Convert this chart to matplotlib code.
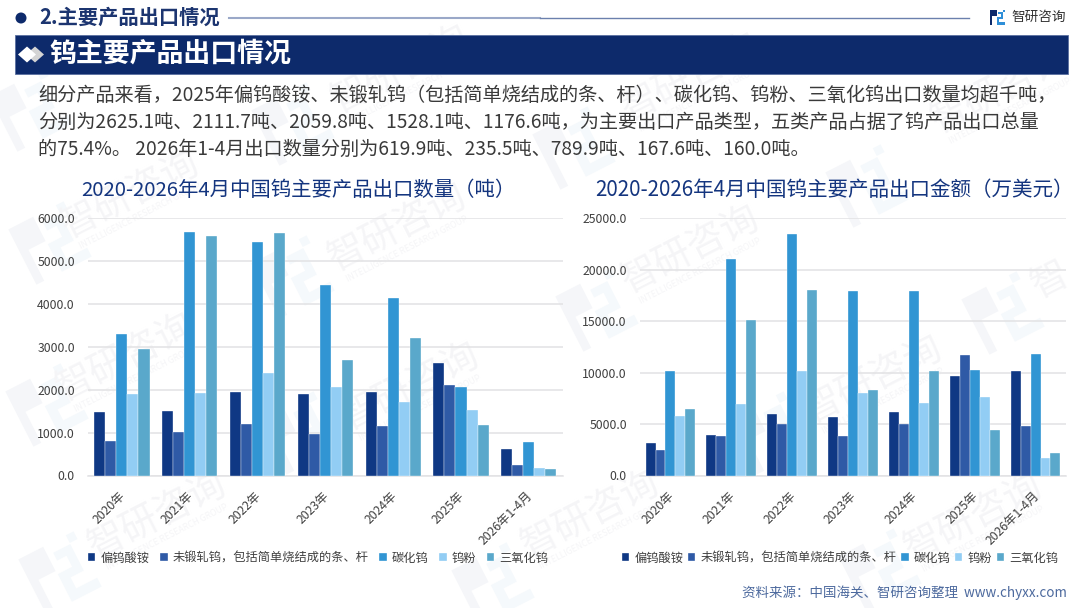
import numpy as np
import matplotlib
matplotlib.use("Agg")
import matplotlib.pyplot as plt
from matplotlib.patches import Rectangle, Polygon, Circle
from matplotlib.transforms import Affine2D

plt.rcParams['font.family'] = ['Noto Sans CJK SC', 'DejaVu Sans']

years = ['2020年', '2021年', '2022年', '2023年', '2024年', '2025年', '2026年1-4月']
products = ['偏钨酸铵', '未锻轧钨，包括简单烧结成的条、杆', '碳化钨', '钨粉', '三氧化钨']
colors = ['#0f3884', '#2f5aa6', '#3195d3', '#92cdf4', '#5aa8cb']

qty_apt = [1479, 1502, 1938, 1891, 1953, 2625.1, 619.9]
qty_unwrought = [809, 1004, 1198, 965, 1144, 2111.7, 235.5]
qty_carbide = [3292, 5681, 5440, 4436, 4140, 2059.8, 789.9]
qty_powder = [1891, 1930, 2389, 2062, 1712, 1528.1, 167.6]
qty_oxide = [2942, 5580, 5658, 2700, 3198, 1176.6, 160.0]

val_apt = [3113, 3923, 5934, 5642, 6161, 9695, 10117]
val_unwrought = [2464, 3794, 4994, 3794, 4994, 11738, 4767]
val_carbide = [10181, 21012, 23476, 17931, 17931, 10246, 11835]
val_powder = [5739, 6907, 10117, 8042, 7069, 7620, 1654]
val_oxide = [6420, 15110, 17996, 8301, 10117, 4442, 2205]

W, H = 1080, 608
NAVY = '#0d2a6b'

fig = plt.figure(figsize=(W / 100, H / 100), dpi=100, facecolor='white')

# full-page layer in pixel coordinates for the header, text and watermark
bg = fig.add_axes([0, 0, 1, 1], zorder=0)
bg.set_xlim(0, W)
bg.set_ylim(H, 0)
bg.axis('off')


def logo(ax, cx, cy, s, angle=0, c1=NAVY, c2='#2f8fd8', zorder=1):
    # blocky company mark, s is its width in pixels
    rot = Affine2D().scale(s / 10).rotate_deg(angle).translate(cx, cy) + ax.transData
    left = [(-5, -5), (-0.5, -5), (-0.5, -0.6), (-3.6, -0.6), (-3.6, 5), (-5, 5)]
    right = [(0.5, -3.4), (3.6, -3.4), (3.6, 1.4), (1.2, 1.4), (1.2, 3.4), (5, 3.4),
             (5, 5), (-0.4, 5), (-0.4, 0), (2.2, 0), (2.2, -2), (0.5, -2)]
    ax.add_patch(Polygon(left, closed=True, fc=c1, ec='none', transform=rot, zorder=zorder))
    ax.add_patch(Polygon(right, closed=True, fc=c2, ec='none', transform=rot, zorder=zorder))
    ax.add_patch(Rectangle((3.6, -5), 1.4, 1.4, fc=c2, ec='none', transform=rot, zorder=zorder))


# repeated watermark
for cx, cy in [(50, 243), (47, 405), (293, 277), (300, 433), (60, 573), (493, 584), (597, 310),
               (770, 433), (1003, 313), (880, 570), (574, 148), (31, 110), (293, 124), (867, 186)]:
    logo(bg, cx, cy, 62, angle=-27, c1='#f5f6f9', c2='#f5f9fc', zorder=1)
for tx, ty in [(130, 195), (397, 228), (125, 358), (410, 387), (157, 516), (590, 515),
               (690, 250), (690, 78), (400, 70), (873, 380), (973, 518), (1000, 90)]:
    bg.text(tx, ty, '智研咨询', fontsize=27, color='#f5f5f7', rotation=27, ha='center', va='center', zorder=1)
    bg.text(tx + 10, ty + 21, 'INTELLIGENCE RESEARCH GROUP', fontsize=6.2, color='#f5f5f7',
            rotation=27, ha='center', va='center', zorder=1)
bg.text(1050, 280, '智', fontsize=27, color='#f5f5f7', rotation=27, ha='center', va='center', zorder=1)

# section heading
bg.add_patch(Circle((21, 18), 5.5, fc=NAVY, ec='none', zorder=3))
bg.text(39, 17, '2.主要产品出口情况', fontsize=14.6, fontweight='bold', color='#1c3570', va='center', zorder=3)
bg.plot([229, 540], [18, 18], color='#9aa8c8', lw=1.5, zorder=3)
bg.plot([540, 969], [18, 18], color='#6b80ad', lw=1.0, zorder=3)
logo(bg, 997.5, 17, 15, zorder=3)
bg.text(1011, 17, '智研咨询', fontsize=9.8, color='#333333', va='center', zorder=3)

# title band
bg.add_patch(Rectangle((14.5, 34.5), 1053, 39.5, fc=NAVY, ec='#5a70a0', lw=0.6, zorder=3))
bg.add_patch(Polygon([(35, 46.5), (44, 54.5), (35, 62.5), (26, 54.5)], closed=True, fc='#d4d4d4', ec='none', zorder=4))
bg.add_patch(Polygon([(27, 46.5), (36, 54.5), (27, 62.5), (18, 54.5)], closed=True, fc='white', ec='none', zorder=4))
bg.text(49, 53.5, '钨主要产品出口情况', fontsize=19.4, fontweight='bold', color='white', va='center', zorder=4)

body = ['细分产品来看，2025年偏钨酸铵、未锻轧钨（包括简单烧结成的条、杆）、碳化钨、钨粉、三氧化钨出口数量均超千吨，',
        '分别为2625.1吨、2111.7吨、2059.8吨、1528.1吨、1176.6吨，为主要出口产品类型，五类产品占据了钨产品出口总量',
        '的75.4%。 2026年1-4月出口数量分别为619.9吨、235.5吨、789.9吨、167.6吨、160.0吨。']
for line, y in zip(body, [95, 122, 149]):
    bg.text(38, y, line, fontsize=13.8, color='#3a3a3a', va='center', zorder=3)

bg.text(298, 190.5, '2020-2026年4月中国钨主要产品出口数量（吨）', fontsize=14.7, color='#14357f',
        ha='center', va='center', zorder=3)
bg.text(834, 190.5, '2020-2026年4月中国钨主要产品出口金额（万美元）', fontsize=14.8, color='#14357f',
        ha='center', va='center', zorder=3)
bg.text(1067, 593, '资料来源：中国海关、智研咨询整理  www.chyxx.com', fontsize=9.7, color='#4d6a9e',
        ha='right', va='center', zorder=3)


def grouped(rect, series, ymax, step, legend_x, colgap):
    x0, x1 = rect
    ax = fig.add_axes([x0 / W, 1 - 475.5 / H, (x1 - x0) / W, 257.2 / H], zorder=2)
    ax.patch.set_alpha(0)
    pos = np.arange(len(years))
    bw = 0.163
    for i, vals in enumerate(series):
        ax.bar(pos + (i - 2) * bw, vals, bw, color=colors[i], label=products[i], zorder=3,
               edgecolor='white', linewidth=0.25)
    ax.set_xlim(-0.5, len(years) - 0.5)
    ax.set_ylim(0, ymax)
    ax.set_yticks(np.arange(0, ymax + 1, step))
    ax.set_yticklabels([f'{v:.1f}' for v in np.arange(0, ymax + 1, step)])
    ax.grid(axis='y', color='#e2e2e4', lw=1.1, zorder=0)
    ax.set_axisbelow(True)
    for side in ['top', 'right', 'left']:
        ax.spines[side].set_visible(False)
    ax.spines['bottom'].set_color('#e2e2e4')
    ax.spines['bottom'].set_linewidth(1.1)
    ax.tick_params(axis='both', length=0, labelsize=8.8, labelcolor='#404040')
    ax.tick_params(axis='y', pad=9.5)
    ax.set_xticks(pos)
    ax.set_xticklabels(years, rotation=45, ha='right', va='top', rotation_mode='anchor',
                       fontsize=8.8, color='#404040')
    ax.tick_params(axis='x', pad=10)
    off = Affine2D().translate(-3, 0)
    for lab in ax.get_xticklabels():
        lab.set_transform(lab.get_transform() + off)
    ax.legend(loc='center left', bbox_to_anchor=(legend_x / W, 1 - 558 / H), bbox_transform=fig.transFigure,
              ncol=5, frameon=False, fontsize=8.8, labelcolor='#404040', handlelength=0.6, handleheight=0.6,
              handletextpad=0.4, columnspacing=colgap, borderpad=0, borderaxespad=0)
    return ax


grouped((88, 562.7), [qty_apt, qty_unwrought, qty_carbide, qty_powder, qty_oxide], 6000, 1000, 88, 0.9)
grouped((640, 1066), [val_apt, val_unwrought, val_carbide, val_powder, val_oxide], 25000, 5000, 622, 0.4)

fig.savefig('out.png', dpi=100)
